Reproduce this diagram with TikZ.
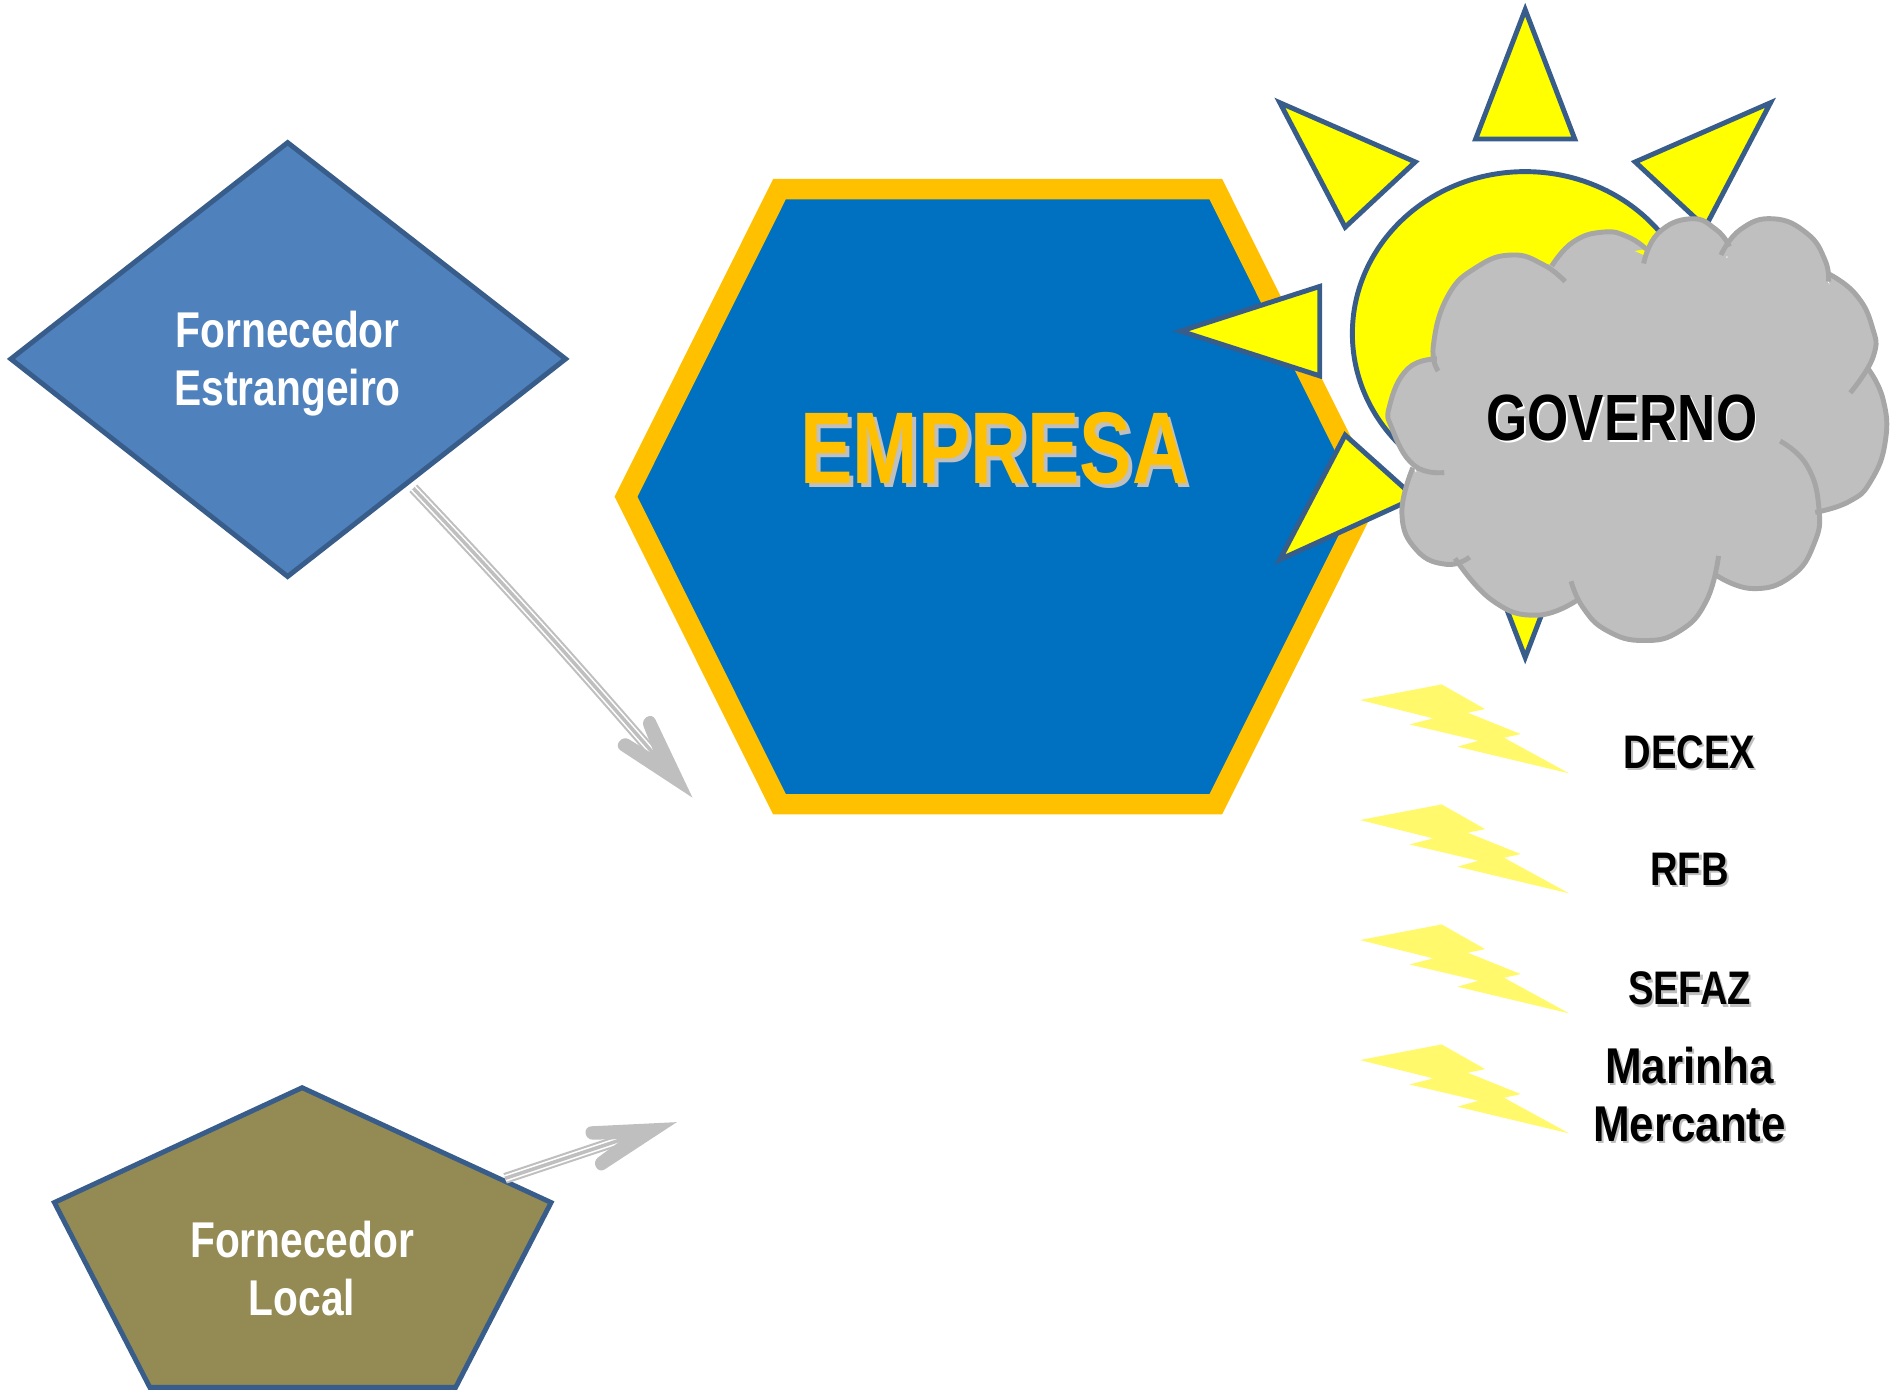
\documentclass[tikz,border=0pt]{standalone}
\usepackage{fontspec}
\usepackage{xcolor}
\setmainfont{Liberation Sans}
\newfontfamily\capsfont[FakeStretch=0.81]{Liberation Sans}
\newfontfamily\narrowfont[FakeStretch=0.77]{Liberation Sans}
\newfontfamily\widefont[FakeStretch=0.875]{Liberation Sans}
\definecolor{edgeblue}{HTML}{385D8A}
\definecolor{diamondblue}{HTML}{4F81BD}
\definecolor{olive}{HTML}{948A54}
\definecolor{hexblue}{HTML}{0070C0}
\definecolor{hexorange}{HTML}{FFC000}
\definecolor{arrowgrey}{HTML}{BFBFBF}
\definecolor{cloudedge}{HTML}{A6A6A6}
\definecolor{boltyellow}{HTML}{FFF96B}
\definecolor{sunyellow}{HTML}{FFFF00}
\tikzset{
	supplier/.style={draw=edgeblue, line width=1.4pt, line join=miter},
	sunpart/.style={draw=edgeblue, fill=sunyellow, line width=1.4pt},
	cloudfill/.style={fill=arrowgrey},
	cloudline/.style={draw=cloudedge, line width=1.4pt},
	bolt/.style={fill=boltyellow},
	arrowline/.style={draw=arrowgrey, line width=0.6pt, double=white, double distance=1.9pt,
		postaction={draw=arrowgrey, line width=1pt, double=none}},
	arrowhead/.style={fill=arrowgrey},
	label/.style={align=center, inner sep=0pt}
}
\newcommand{\shadowtext}[3]{\leavevmode\rlap{\kern#2\raisebox{-#2}{\textcolor{#1}{#3}}}#3}
\newcommand{\cloudlobes}[1]{%
	\path[#1] plot[smooth, tension=0.8] coordinates {(1190,307) (1186,286) (1198,245) (1222,221) (1251,211) (1277,219) (1295,233)};
	\path[#1] plot[smooth, tension=0.8] coordinates {(1284,220) (1302,200) (1327,192) (1347,196) (1362,206)};
	\path[#1] plot[smooth, tension=0.8] coordinates {(1360,218) (1372,193) (1399,181) (1420,190) (1431,204)};
	\path[#1] plot[smooth, tension=0.8] coordinates {(1424,211) (1440,190) (1467,181) (1495,193) (1510,215) (1513,233)};
	\path[#1] plot[smooth, tension=0.8] coordinates {(1512,226) (1535,243) (1549,270) (1550,295) (1531,325)};
	\path[#1] plot[smooth, tension=0.8] coordinates {(1545,304) (1558,330) (1560,365) (1548,398) (1530,415) (1502,424)};
	\path[#1] plot[smooth, tension=0.8] coordinates {(1473,365) (1495,385) (1505,420) (1501,450) (1482,477) (1450,487) (1420,476)};
	\path[#1] plot[smooth, tension=0.8] coordinates {(1422,460) (1412,497) (1390,522) (1360,530) (1330,522) (1310,503) (1300,481)};
	\path[#1] plot[smooth, tension=0.8] coordinates {(1306,496) (1272,509) (1235,497) (1204,462)};
	\path[#1] plot[smooth, tension=0.8] coordinates {(1216,461) (1197,467) (1172,455) (1160,425) (1169,387)};
	\path[#1] plot[smooth, tension=0.8] coordinates {(1195,391) (1170,385) (1152,355) (1150,335) (1165,305) (1189,297)};
}

\begin{document}
\begin{tikzpicture}[x=0.012085cm, y=-0.012085cm]
		\useasboundingbox (0,0) rectangle (1568,1150);
		
		\coordinate (DA) at (238,118);
		\coordinate (DB) at (468,297);
		\coordinate (DC) at (238,477);
		\coordinate (DD) at (9,297);
		\coordinate (S1) at (342,404);
		\coordinate (S2) at (542,625);
		\coordinate (T1) at (573,660);
		\coordinate (S3) at (418,975);
		\coordinate (S4) at (515.5,942.5);
		\coordinate (T2) at (560,928.5);
		
		\draw[supplier, fill=diamondblue] (DA) -- (DB) -- (DC) -- (DD) -- cycle;
		\draw[supplier, fill=olive] (250,900) -- (456,995) -- (377,1148) -- (124,1148) -- (45,995) -- cycle;
		\draw[draw=hexorange, fill=hexblue, line width=5.8pt] (645,156.5) -- (1006,156.5) -- (1133,411) -- (1006,665.5) -- (645,665.5) -- (518,411) -- cycle;
		
		\draw[arrowline] (S1) to[bend left=1.2] (S2);
		\draw[arrowline] (S3) -- (S4);
		\fill[arrowhead] (T1) [rounded corners=1.8pt] -- (540,590.5) -- (530.5,596) [sharp corners] -- (S2) [rounded corners=1.8pt] -- (516,609) -- (509,618) [sharp corners] -- cycle;
		\fill[arrowhead] (T2) [rounded corners=1.8pt] -- (483.9,932.2) -- (485.2,943.1) [sharp corners] -- (S4) [rounded corners=1.8pt] -- (490.5,960.9) -- (495.9,970.5) [sharp corners] -- cycle;
		
		\draw[sunpart] (1262,276) ellipse [x radius=143, y radius=134];
		\draw[sunpart] (1262,8) -- (1303,115) -- (1221,115) -- cycle;
		\draw[sunpart] (1059,85) -- (1171,134) -- (1113,188) -- cycle;
		\draw[sunpart] (1465,85) -- (1353,134) -- (1411,188) -- cycle;
		\draw[sunpart] (977,274) -- (1092,237) -- (1092,311) -- cycle;
		\draw[sunpart] (1059,463) -- (1113,360) -- (1171,412) -- cycle;
		\draw[sunpart] (1262,544) -- (1303,437) -- (1221,437) -- cycle;
		
		\cloudlobes{cloudfill}
		\fill[cloudfill] (1190,300) -- (1250,215) -- (1283,219) -- (1330,198) -- (1362,212) -- (1399,187) -- (1431,205) -- (1428,214) -- (1467,186) -- (1508,228) -- (1545,275) -- (1540,310) -- (1555,350) -- (1535,400) -- (1500,420) -- (1500,440) -- (1450,480) -- (1418,470) -- (1385,515) -- (1360,525) -- (1310,495) -- (1272,503) -- (1225,482) -- (1206,462) -- (1175,450) -- (1165,420) -- (1172,390) -- (1155,345) -- (1168,310) -- cycle;
		\cloudlobes{cloudline}
		
		\foreach \dy in {0,99.3,198.6,297.9}
			\fill[bolt, shift={(0,\dy)}] (1125.4,579.2) -- (1192.9,566.3) -- (1228.8,586.7) -- (1214.4,589.7) -- (1258.3,607.4) -- (1244.5,610.4) -- (1298.3,639.9) -- (1205.9,617.8) -- (1223.3,612.9) -- (1166.2,599.4) -- (1186,594.4) -- cycle;
		
		\node[label, white, font=\capsfont\bfseries\fontsize{14.3}{16.5}\selectfont] (FE) at (238,301) {Fornecedor\\Estrangeiro};
		\node[label, white, font=\capsfont\bfseries\fontsize{14.3}{16.5}\selectfont] (FL) at (250,1050) {Fornecedor\\Local};
		\node[label, hexorange, font=\narrowfont\bfseries\fontsize{29}{32}\selectfont] (E) at (823,373) {\shadowtext{arrowgrey}{1.1pt}{EMPRESA}};
		\node[label, font=\capsfont\bfseries\fontsize{18.6}{21}\selectfont] (G) at (1342,347) {\shadowtext{white}{0.5pt}{GOVERNO}};
		\node[label, font=\capsfont\bfseries\fontsize{13.4}{16}\selectfont] (DX) at (1398,623) {\shadowtext{arrowgrey}{0.6pt}{DECEX}};
		\node[label, font=\capsfont\bfseries\fontsize{13.4}{16}\selectfont] (RF) at (1398,720) {\shadowtext{arrowgrey}{0.6pt}{RFB}};
		\node[label, font=\capsfont\bfseries\fontsize{13.4}{16}\selectfont] (SF) at (1398,819) {\shadowtext{arrowgrey}{0.6pt}{SEFAZ}};
		\node[label, font=\widefont\bfseries\fontsize{14.3}{16.5}\selectfont] (MM) at (1398,906.5) {\shadowtext{arrowgrey}{0.6pt}{Marinha}\\\shadowtext{arrowgrey}{0.6pt}{Mercante}};
	\end{tikzpicture}
\end{document}
